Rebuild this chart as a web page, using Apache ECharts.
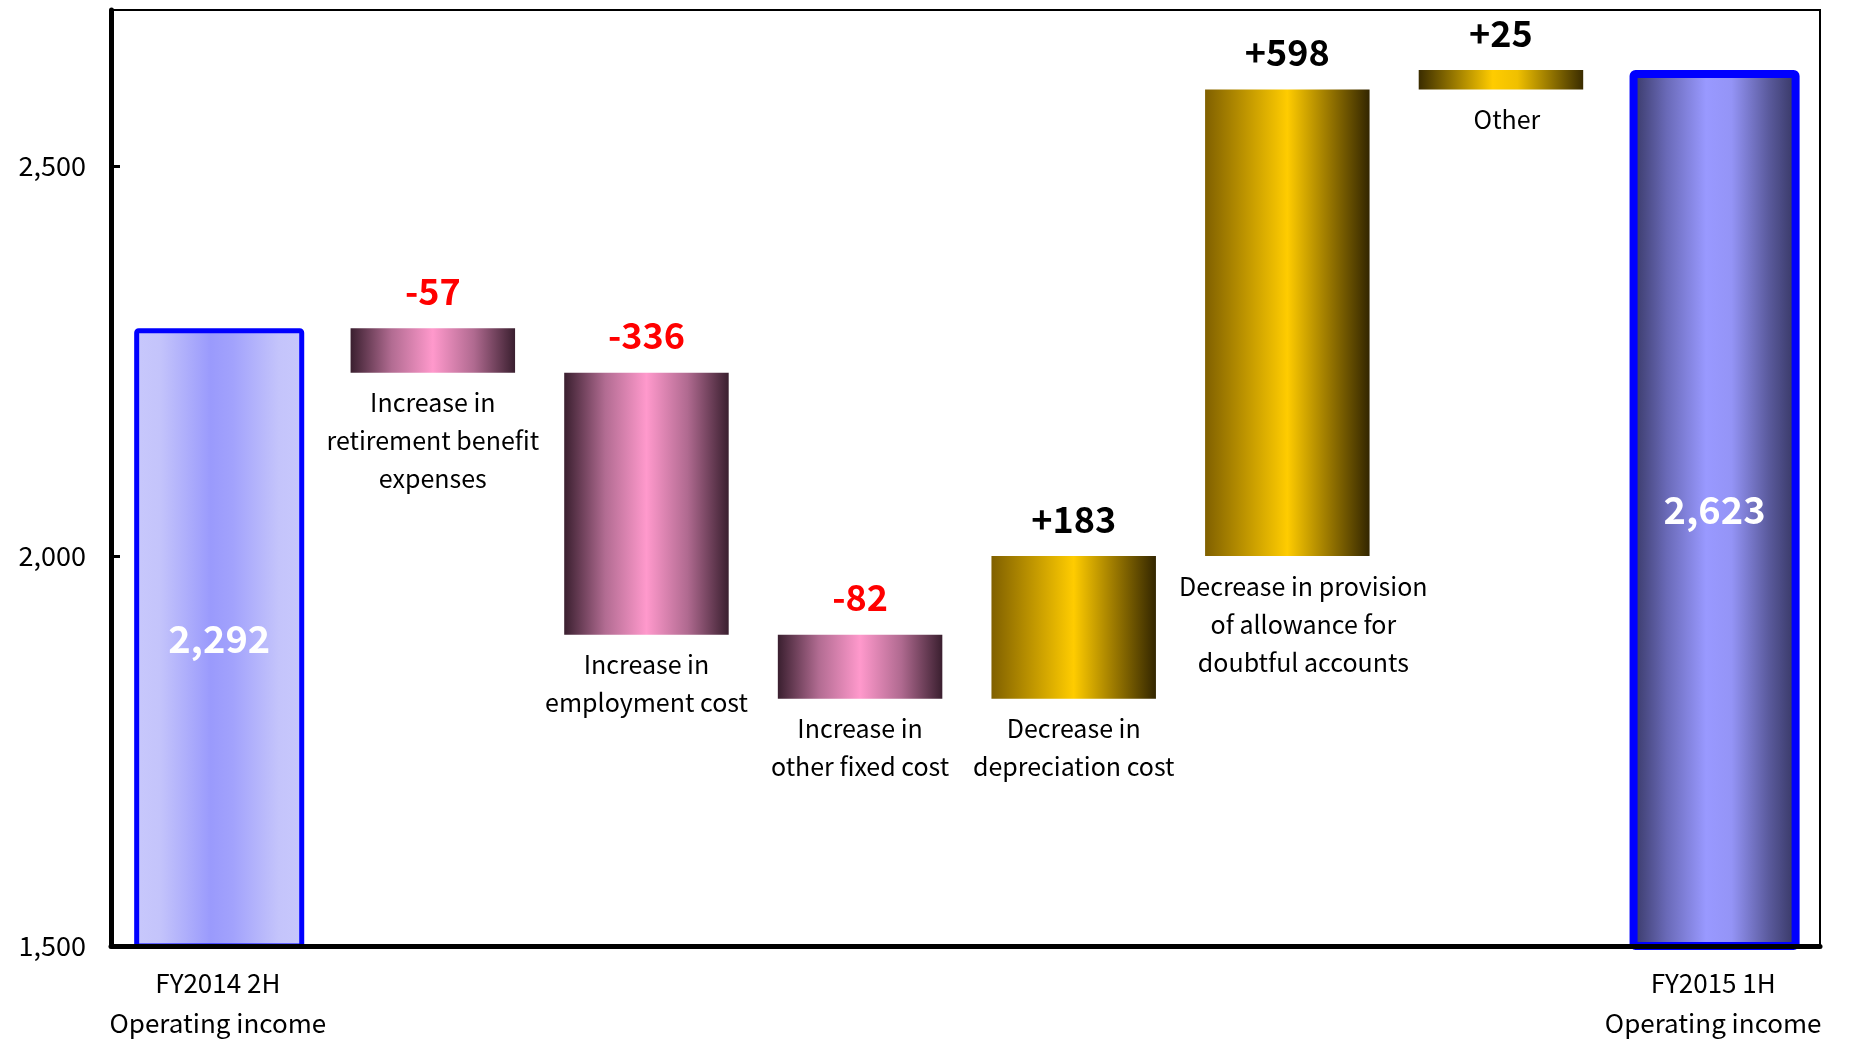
<!DOCTYPE html>
<html>
<head>
<meta charset="utf-8">
<script src="https://cdn.jsdelivr.net/npm/echarts@6/dist/echarts.min.js"></script>
<style>
  html, body { margin: 0; padding: 0; background: #ffffff; }
  #chart { width: 1849px; height: 1042px; }
</style>
</head>
<body>
<div id="chart"></div>
<script>
// Operating income bridge: FY2014 2H -> FY2015 1H
const categories = [
  'FY2014 2H\nOperating income',
  'Increase in\nretirement benefit\nexpenses',
  'Increase in\nemployment cost',
  'Increase in\nother fixed cost',
  'Decrease in\ndepreciation cost',
  'Decrease in provision\nof allowance for\ndoubtful accounts',
  'Other',
  'FY2015 1H\nOperating income'
];
const openingValue = 2292;
const changes = [-57, -336, -82, 183, 598, 25];
const closingValue = 2623;
const yAxisMin = 1500;
const yAxisMax = 2700;
const yAxisStep = 500;

const FONT = '"Noto Sans CJK JP", "Noto Sans", sans-serif';

// Horizontal shading used for each kind of bar
function hGrad(stops) {
  return new echarts.graphic.LinearGradient(0, 0, 1, 0,
    stops.map(s => ({ offset: s[0], color: s[1] })));
}
const fills = {
  opening: () => hGrad([[0, '#c8c8fc'], [0.15, '#c4c4fb'], [0.45, '#9a9afc'], [0.58, '#a2a2fc'], [0.85, '#c4c4fb'], [1, '#c8c8fc']]),
  closing: () => hGrad([[0, '#34345f'], [0.22, '#6a6ab8'], [0.45, '#9999ff'], [0.6, '#9494f6'], [0.82, '#5a5a9c'], [1, '#32325c']]),
  down: () => hGrad([[0, '#3a1f2f'], [0.25, '#b26c92'], [0.5, '#ff99cc'], [0.75, '#b06a90'], [1, '#3a1f2f']]),
  up: () => hGrad([[0, '#806000'], [0.5, '#ffcc00'], [0.75, '#9a7800'], [1, '#332600']]),
  upSmall: () => hGrad([[0, '#3a2c00'], [0.45, '#ffcc00'], [0.6, '#f0c000'], [1, '#3a2c00']])
};

const lastIdx = categories.length - 1;
const isTotal = i => i === 0 || i === lastIdx;
const fmtThousands = v => Number(v).toLocaleString('en-US');
const signed = d => (d > 0 ? '+' : '') + d;

// Floating steps: invisible base + visible change, stacked
const baseData = ['-'];
const stepData = ['-'];
let running = openingValue;
changes.forEach(d => {
  const next = running + d;
  baseData.push(Math.min(running, next));
  stepData.push(Math.abs(d));
  running = next;
});
baseData.push('-');
stepData.push('-');

// Opening / closing totals drawn as their own column
const totalData = categories.map((c, i) => (i === 0 ? openingValue : i === lastIdx ? closingValue : '-'));

const totalItems = totalData.map((v, i) => {
  if (v === '-') return v;
  const opening = i === 0;
  return {
    value: v,
    itemStyle: {
      color: opening ? fills.opening() : fills.closing(),
      borderColor: '#0000ff',
      borderWidth: opening ? 5 : 8,
      borderRadius: 2
    }
  };
});

const stepItems = stepData.map((v, i) => {
  if (v === '-') return v;
  const d = changes[i - 1];
  let fill = d < 0 ? fills.down() : fills.up();
  if (i === lastIdx - 1) fill = fills.upSmall();
  return { value: v, itemStyle: { color: fill }, label: { color: d < 0 ? '#ff0000' : '#000000' } };
});

// Category captions sit under each floating step (on top of the hidden base)
const captionOffset = { 5: [16, 0], 6: [6, 0] };
const baseItems = baseData.map((v, i) => {
  if (v === '-') return v;
  return { value: v, label: { offset: captionOffset[i] || [0, 0] } };
});

// Total columns are a little wider; the gap keeps both columns on the same centre
const stepWidthPct = 77;
const totalWidthPct = 79.6;
const gapPct = -(totalWidthPct + stepWidthPct) / (2 * totalWidthPct) * 100;

const chart = echarts.init(document.getElementById('chart'), null, { renderer: 'canvas' });
chart.setOption({
  animation: false,
  backgroundColor: '#ffffff',
  grid: {
    left: 111, right: 29, top: 10, bottom: 96,
    containLabel: false, outerBoundsMode: 'none',
    show: true, borderColor: '#000000', borderWidth: 2, backgroundColor: 'transparent'
  },
  xAxis: {
    type: 'category',
    data: categories,
    z: 10,
    axisLine: { show: true, lineStyle: { color: '#000000', width: 5 } },
    axisTick: { show: false },
    axisLabel: {
      interval: 0,
      margin: 17,
      color: '#000000',
      fontFamily: FONT,
      fontSize: 26,
      lineHeight: 40,
      formatter: (val, idx) => (isTotal(idx) ? val : '')
    },
    splitLine: { show: false }
  },
  yAxis: {
    type: 'value',
    min: yAxisMin,
    max: yAxisMax,
    interval: yAxisStep,
    z: 10,
    axisLine: { show: true, lineStyle: { color: '#000000', width: 5 } },
    axisTick: { show: true, inside: true, length: 9, lineStyle: { color: '#000000', width: 3 } },
    axisLabel: {
      showMaxLabel: false,
      margin: 25,
      color: '#000000',
      fontFamily: FONT,
      fontSize: 27,
      formatter: v => fmtThousands(v)
    },
    splitLine: { show: false }
  },
  series: [
    {
      name: 'total',
      type: 'bar',
      stack: 'totals',
      barWidth: totalWidthPct + '%',
      barGap: gapPct + '%',
      emphasis: { disabled: true },
      label: {
        show: true,
        position: 'inside',
        color: '#ffffff',
        fontFamily: FONT,
        fontWeight: 'bold',
        fontSize: 38,
        formatter: p => fmtThousands(p.value)
      },
      data: totalItems
    },
    {
      name: 'base',
      type: 'bar',
      stack: 'bridge',
      silent: true,
      barWidth: stepWidthPct + '%',
      barGap: gapPct + '%',
      itemStyle: { color: 'transparent' },
      emphasis: { disabled: true },
      label: {
        show: true,
        position: 'insideTop',
        distance: 11,
        color: '#000000',
        fontFamily: FONT,
        fontSize: 25,
        lineHeight: 38,
        align: 'center',
        formatter: p => categories[p.dataIndex]
      },
      data: baseItems
    },
    {
      name: 'step',
      type: 'bar',
      stack: 'bridge',
      barWidth: stepWidthPct + '%',
      barGap: gapPct + '%',
      emphasis: { disabled: true },
      label: {
        show: true,
        position: 'top',
        distance: 19,
        fontFamily: FONT,
        fontWeight: 'bold',
        fontSize: 36,
        formatter: p => signed(changes[p.dataIndex - 1])
      },
      data: stepItems
    }
  ]
});
</script>
</body>
</html>
